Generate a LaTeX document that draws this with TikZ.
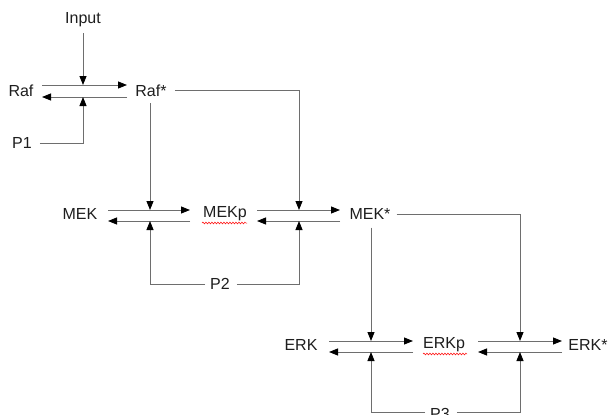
\documentclass[tikz,border=0pt]{standalone}
\usepackage{fontspec}
\setmainfont{Liberation Sans}
\usetikzlibrary{arrows.meta,decorations.pathmorphing}
\definecolor{ln}{RGB}{110,110,110}
\definecolor{tx}{RGB}{30,30,30}
\tikzset{
  lbl/.style={inner sep=0pt, text=tx, font=\fontsize{16}{18}\selectfont},
  wire/.style={draw=ln, line width=0.9pt},
  arr/.style={wire, -{Triangle[length=9pt,width=7pt,color=black]}},
  spell/.style={draw=red, line width=0.5pt, decorate, decoration={snake, amplitude=0.9pt, segment length=3pt}}
}
\begin{document}
\begin{tikzpicture}[x=1pt,y=-1pt]
\useasboundingbox[fill=white] (0,0) rectangle (608,415);
% labels
\node[lbl] (Input) at (83,20) {Input};
\node[lbl] (Raf) at (21,91) {Raf};
\node[lbl] (Rafs) at (151,91) {Raf*};
\node[lbl] (P1) at (22,143) {P1};
\node[lbl] (MEK) at (80,214) {MEK};
\node[lbl] (MEKp) at (225,214) {MEKp};
\node[lbl] (MEKs) at (370,214) {MEK*};
\node[lbl] (P2) at (220,284) {P2};
\node[lbl] (ERK) at (301,345) {ERK};
\node[lbl] (ERKp) at (444,345) {ERKp};
\node[lbl] (ERKs) at (588,345) {ERK*};
\node[lbl] (P3) at (440,414) {P3};
% junction coordinates
\coordinate (a1) at (42,85);  \coordinate (a2) at (127,85);
\coordinate (a3) at (127,97); \coordinate (a4) at (42,97);
\coordinate (j1t) at (83,85); \coordinate (j1b) at (83,97);
\coordinate (b1) at (108,210); \coordinate (b2) at (190,210);
\coordinate (b3) at (190,221); \coordinate (b4) at (108,221);
\coordinate (j2t) at (150,210); \coordinate (j2b) at (150,221);
\coordinate (c1) at (257,210); \coordinate (c2) at (340,210);
\coordinate (c3) at (340,221); \coordinate (c4) at (257,221);
\coordinate (j3t) at (299,210); \coordinate (j3b) at (299,221);
\coordinate (d1) at (329,341); \coordinate (d2) at (413,341);
\coordinate (d3) at (413,352); \coordinate (d4) at (329,352);
\coordinate (j4t) at (371,341); \coordinate (j4b) at (371,352);
\coordinate (e1) at (478,341); \coordinate (e2) at (562,341);
\coordinate (e3) at (562,352); \coordinate (e4) at (478,352);
\coordinate (j5t) at (520,341); \coordinate (j5b) at (520,352);
% Raf reaction
\draw[arr] (a1) -- (a2);
\draw[arr] (a3) -- (a4);
\draw[arr] ([yshift=-6]Input.south) -- (j1t);
\draw[arr] ([xshift=8]P1.east) -| (j1b);
% MEK reactions
\draw[arr] (b1) -- (b2);
\draw[arr] (b3) -- (b4);
\draw[arr] (c1) -- (c2);
\draw[arr] (c3) -- (c4);
\draw[arr] ([yshift=-6]Rafs.south -| j2t) -- (j2t);
\draw[arr] ([xshift=8,yshift=1]Rafs.east) -| (j3t);
\draw[arr] ([xshift=-5]P2.west) -| (j2b);
\draw[arr] ([xshift=7]P2.east) -| (j3b);
% ERK reactions
\draw[arr] (d1) -- (d2);
\draw[arr] (d3) -- (d4);
\draw[arr] (e1) -- (e2);
\draw[arr] (e3) -- (e4);
\draw[arr] ([yshift=-8]MEKs.south -| j4t) -- (j4t);
\draw[arr] ([xshift=6]MEKs.east) -| (j5t);
\draw[arr] ([xshift=-5,yshift=2]P3.west) -| (j4b);
\draw[arr] ([xshift=7,yshift=2]P3.east) -| (j5b);
% spell-check underlines
\draw[spell] (202,223) -- (247,223);
\draw[spell] (423,354) -- (467,354);
\end{tikzpicture}
\end{document}
